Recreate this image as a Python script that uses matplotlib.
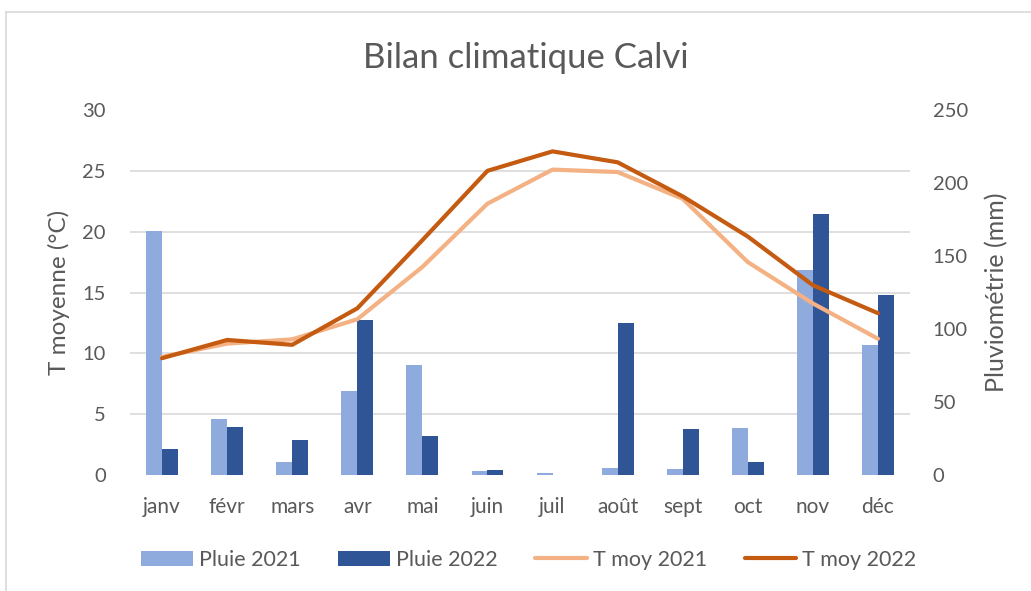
import matplotlib.pyplot as plt
import numpy as np
from matplotlib.lines import Line2D

plt.rcParams['font.family'] = ['Lato', 'DejaVu Sans']

# Données
mois = ['janv', 'févr', 'mars', 'avr', 'mai', 'juin', 'juil', 'août', 'sept', 'oct', 'nov', 'déc']
pluie_2021 = [167, 38.4, 8.7, 57.7, 75.3, 2.7, 1.4, 4.8, 4.1, 32.4, 140.4, 88.8]
pluie_2022 = [17.6, 32.7, 24.2, 106, 26.5, 3.4, 0, 103.9, 31.5, 8.7, 178.8, 123.3]
tmoy_2021 = [9.7, 10.8, 11.15, 12.8, 17.1, 22.3, 25.1, 24.9, 22.7, 17.5, 14.1, 11.2]
tmoy_2022 = [9.6, 11.1, 10.7, 13.7, 19.3, 25.0, 26.6, 25.7, 22.9, 19.6, 15.6, 13.3]

gris = '#595959'
x = np.arange(len(mois))
w = 0.245

fig = plt.figure(figsize=(10.31, 5.91), dpi=100)
ax = fig.add_axes([129.5 / 1031, 1 - 475 / 591, 781 / 1031, 365 / 591])
ax2 = ax.twinx()

# pluie sur l'axe de droite, dessinée derrière les courbes
ax.set_zorder(ax2.get_zorder() + 1)
ax.patch.set_visible(False)

ax2.bar(x - w / 2, pluie_2021, w, color='#8FAADC', label='Pluie 2021')
ax2.bar(x + w / 2, pluie_2022, w, color='#2F5597', label='Pluie 2022')
ax.plot(x, tmoy_2021, color='#F4B183', lw=3, label='T moy 2021', solid_capstyle='round')
ax.plot(x, tmoy_2022, color='#C55A11', lw=3, label='T moy 2022', solid_capstyle='round')

ax.set_xlim(-0.5, 11.5)
ax.set_ylim(0, 30)
ax2.set_ylim(0, 250)
ax.set_yticks(range(0, 31, 5))
ax2.set_yticks(range(0, 251, 50))
# grille alignée sur l'axe de gauche (tous les 5 °C)
ax2.set_yticks(np.linspace(0, 250, 7), minor=True)
ax.set_xticks(x)
ax.set_xticklabels(mois)

for a in (ax, ax2):
    for s in a.spines.values():
        s.set_visible(False)
    a.tick_params(which='both', length=0, labelsize=14.5, colors=gris)
ax.tick_params(axis='x', pad=16, labelsize=15)
ax.tick_params(axis='y', pad=17)
ax2.tick_params(axis='y', pad=16)
for lab in ax2.get_yticklabels():
    lab.set_horizontalalignment('left')

ax2.yaxis.grid(True, which='minor', color='#D9D9D9', lw=1.2)
ax2.set_axisbelow(True)

ax.set_ylabel('T moyenne (°C)', fontsize=17.5, color=gris, labelpad=9)
ax2.set_ylabel('Pluviométrie (mm)', fontsize=18, color=gris, labelpad=12)
fig.text(0.51, 1 - 58 / 591, 'Bilan climatique Calvi', ha='center', va='center',
         fontsize=25, color=gris)

h1, l1 = ax2.get_legend_handles_labels()
h2, l2 = ax.get_legend_handles_labels()
fig.legend(h1 + h2, l1 + l2, loc='center', bbox_to_anchor=(0.513, 1 - 560 / 591),
           ncol=4, frameon=False, fontsize=15.5, labelcolor=gris,
           handlelength=2.4, handletextpad=0.28, columnspacing=1.75)

# cadre du graphique
fig.add_artist(Line2D([6 / 1031, 1], [1 - 12 / 591] * 2, color='#D9D9D9', lw=1.2))
fig.add_artist(Line2D([6 / 1031] * 2, [0, 1 - 12 / 591], color='#D9D9D9', lw=1.2))

fig.savefig('out.png', dpi=100)
